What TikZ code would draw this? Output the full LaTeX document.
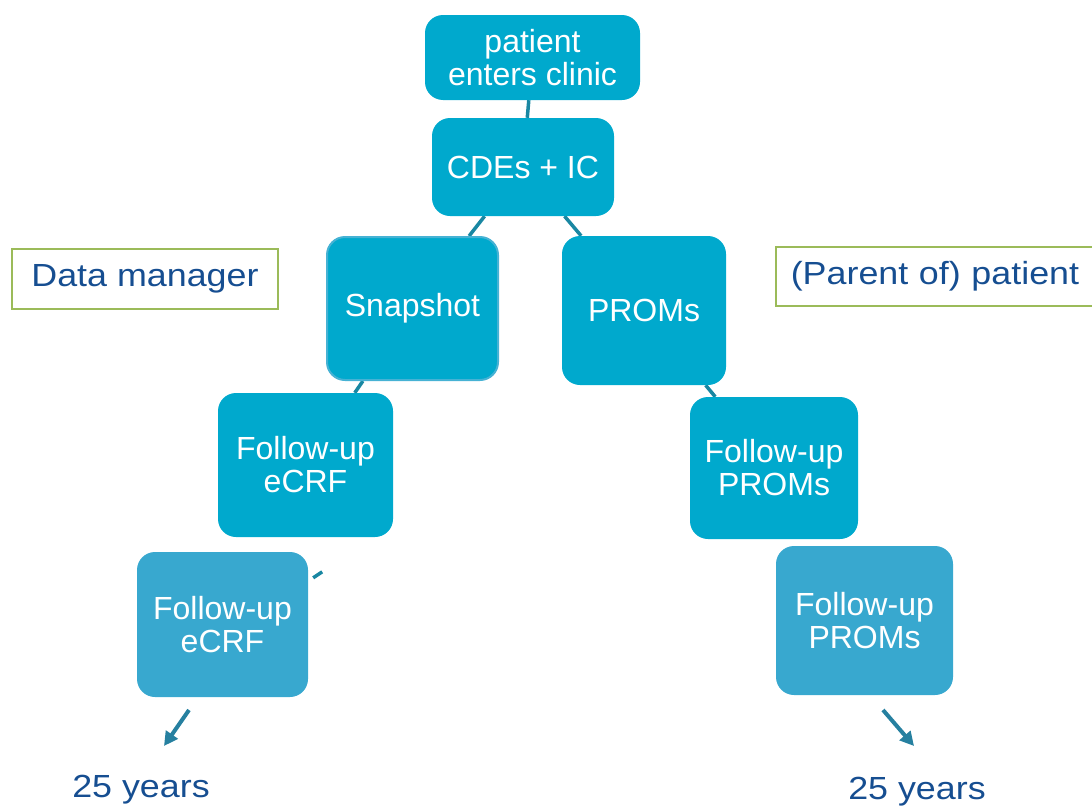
\documentclass[tikz,border=0pt]{standalone}
\usepackage{fontspec}
\setmainfont{Liberation Sans}
\newfontfamily\labelfont{Liberation Sans}[FakeStretch=1.12]
\usetikzlibrary{arrows.meta,backgrounds}
\definecolor{boxA}{RGB}{0,169,205}
\definecolor{boxB}{RGB}{56,168,207}
\definecolor{boxEdge}{RGB}{70,178,212}
\definecolor{connC}{RGB}{25,135,162}
\definecolor{arrC}{RGB}{38,128,160}
\definecolor{lblC}{RGB}{22,78,145}
\definecolor{grnC}{RGB}{155,187,89}
\tikzset{
  stepbox/.style={rounded corners=18pt, fill=boxA, text=white, align=center,
    inner sep=0pt, font=\fontsize{32}{33}\selectfont},
  stepboxB/.style={stepbox, fill=boxB},
  rolebox/.style={draw=grnC, line width=1.6pt, text=lblC, inner sep=0pt,
    font=\labelfont\fontsize{32}{35}\selectfont},
  conn/.style={draw=connC, line width=3.5pt},
  endarrow/.style={draw=arrC, line width=4pt, -{Triangle[length=14pt,width=14pt]}},
  endtext/.style={text=lblC, font=\labelfont\fontsize{32}{35}\selectfont, inner sep=0pt, anchor=base}
}
\begin{document}
\begin{tikzpicture}[x=1pt,y=-1pt]
\useasboundingbox (0,0) rectangle (1092,806);
\node[stepbox, minimum width=215pt, minimum height=85pt] (p) at (532.5,57.5) {patient\\enters clinic};
\node[stepbox, minimum width=182pt, minimum height=98pt] (c) at (523,167) {CDEs + IC};
\node[stepbox, draw=boxEdge, line width=2pt, minimum width=171pt, minimum height=143pt] (snap) at (412.5,308.5) {Snapshot};
\node[stepbox, minimum width=164pt, minimum height=149pt] (proms) at (644,310.5) {PROMs};
\node[stepbox, minimum width=175pt, minimum height=144pt] (e1) at (305.5,465) {Follow-up\\eCRF};
\node[stepbox, minimum width=168pt, minimum height=142pt] (fp1) at (774,468) {Follow-up\\PROMs};
\node[stepboxB, minimum width=171pt, minimum height=145pt] (e2) at (222.5,624.5) {Follow-up\\eCRF};
\node[stepboxB, minimum width=177pt, minimum height=149pt] (fp2) at (864.5,620.5) {Follow-up\\PROMs};
\node[rolebox, minimum width=266pt, minimum height=60pt] (dm) at (145,279) {Data manager};
\node[rolebox, minimum width=330pt, minimum height=59pt, anchor=west, align=left, text width=300pt, inner xsep=15pt] (pp) at (775,276.5) {(Parent of) patient};
\node[endtext] (y1) at (141,797) {25 years};
\node[endtext] (y2) at (917,799) {25 years};
\coordinate (a1s) at (189,710);
\coordinate (a1e) at (164,746);
\coordinate (a2s) at (883,710);
\coordinate (a2e) at (914,746);
\draw[endarrow] (a1s) -- (a1e);
\draw[endarrow] (a2s) -- (a2e);
\begin{pgfonlayer}{background}
\draw[conn] (p) -- (c);
\draw[conn] (c) -- (snap);
\draw[conn] (c) -- (proms);
\draw[conn] (snap) -- (e1);
\draw[conn] (proms) -- (fp1);
\draw[conn] ([shift={(5,26)}]e2.north east) -- ([shift={(14,20)}]e2.north east);
\end{pgfonlayer}
\end{tikzpicture}
\end{document}
